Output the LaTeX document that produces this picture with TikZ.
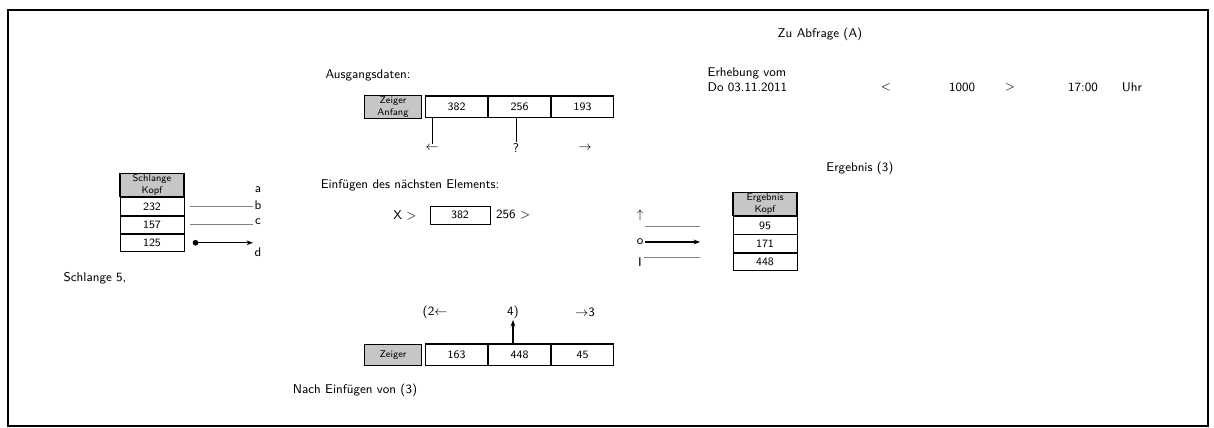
\documentclass[tikz,border=0pt]{standalone}
\usepackage{tikz}
\usetikzlibrary{arrows.meta,positioning}
\tikzset{
  cell/.style={draw, thin, minimum width=1.56cm, minimum height=0.52cm, inner sep=1pt,
    font=\sffamily\footnotesize, align=center},
  head/.style={cell, fill=gray!45, very thick, minimum width=1.42cm, font=\sffamily\scriptsize},
  vcell/.style={cell, minimum width=1.6cm, minimum height=0.44cm},
  vhead/.style={vcell, fill=gray!45, very thick, font=\sffamily\scriptsize},
  lbl/.style={font=\sffamily\small, inner sep=1pt, align=left},
  ptr/.style={thick, -{Stealth[length=1.6mm]}},
  aux/.style={thin, gray}
}
\begin{document}
\begin{tikzpicture}[x=0.025cm, y=-0.025cm]
  \useasboundingbox (0,0) rectangle (1214,427);
  \draw[thick] (8,10) rectangle (1208,426);

  % Ausgangsdaten
  \node[lbl] (t1) at (368,75) {Ausgangsdaten:};
  \node[head] (h1) at (393,107) {Zeiger\\Anfang};
  \node[cell, right=2pt of h1] (a1) {382};
  \node[cell, right=0pt of a1] (a2) {256};
  \node[cell, right=0pt of a2] (a3) {193};
  \draw[very thick] (a1.north west) -- (a3.north east);
  \node[lbl] (l1) at (432,148) {$\leftarrow$};
  \node[lbl] (l2) at (516,148) {?};
  \node[lbl] (l3) at (585,148) {$\rightarrow$};
  \draw (l1.north) -- (l1.north |- a1.south);
  \draw (l2.north) -- (l2.north |- a2.south);

  % Erhebung
  \node[lbl] (t2) at (820,34) {Zu Abfrage (A)};
  \node[lbl, anchor=west] (erh) at (706,80) {Erhebung vom\\Do 03.11.2011};
  \node[lbl] (lt) at (886,87) {$<$};
  \node[lbl] (n1) at (962,87) {1000};
  \node[lbl] (gt) at (1010,87) {$>$};
  \node[lbl] (zeit) at (1083,87) {17:00};
  \node[lbl] (uhr) at (1132,87) {Uhr};

  % Schlange
  \node[vhead] (s0) at (152,185) {Schlange\\Kopf};
  \node[vcell, below=0pt of s0] (s1) {232};
  \node[vcell, below=0pt of s1] (s2) {157};
  \node[vcell, below=0pt of s2] (s3) {125};
  \node[lbl] (la) at (258,190) {a};
  \node[lbl] (lb) at (258,205) {b};
  \node[lbl] (lc) at (258,222) {c};
  \node[lbl] (ld) at (258,252) {d};
  \draw[aux] ([xshift=4pt]s1.east) -- (s1.east -| lb.west);
  \draw[aux] ([xshift=4pt]s2.east) -- (s2.east -| lc.west);
  \draw[{Circle[length=1.4mm]}-{Stealth[length=1.6mm]}, thick]
    ([xshift=6pt]s3.east) -- (ld.west |- s3.east);
  \node[lbl] (t3) at (95,278) {Schlange 5,};

  % Einfuegen
  \node[lbl] (t4) at (410,185) {Einfügen des nächsten Elements:};
  \node[lbl] (x) at (405,215) {X $>$};
  \node[cell, minimum width=1.5cm, minimum height=0.45cm] (b1) at (460,215) {382};
  \node[lbl, right=3pt of b1] (b2) {256 $>$};

  % Ergebnis
  \node[lbl] (t5) at (860,168) {Ergebnis (3)};
  \node[vhead] (r0) at (765,204) {Ergebnis\\Kopf};
  \node[vcell, below=0pt of r0] (r1) {95};
  \node[vcell, below=0pt of r1] (r2) {171};
  \node[vcell, below=0pt of r2] (r3) {448};
  \node[lbl] (p1) at (640,215) {$\uparrow$};
  \node[lbl] (p2) at (640,242) {o};
  \node[lbl] (p3) at (640,262) {I};
  \coordinate (q1) at (700,226);
  \coordinate (q2) at (700,242);
  \coordinate (q3) at (700,257);
  \draw[aux] (q1 -| p1.east) -- (q1);
  \draw[ptr] (p2.east) -- (q2);
  \draw[aux] (q3 -| p3.east) -- (q3);

  % Nach Einfuegen
  \node[lbl] (m1) at (435,312) {(2$\leftarrow$};
  \node[lbl] (m2) at (513,312) {4)};
  \node[lbl] (m3) at (585,312) {$\rightarrow$3};
  \node[head] (h2) at (393,355) {Zeiger};
  \node[cell, right=2pt of h2] (c1) {163};
  \node[cell, right=0pt of c1] (c2) {448};
  \node[cell, right=0pt of c2] (c3) {45};
  \draw[very thick] (c1.north west) -- (c3.north east);
  \draw[ptr] (c2.north -| m2.south) -- (m2.south);
  \node[lbl] (t6) at (355,390) {Nach Einfügen von (3)};
\end{tikzpicture}
\end{document}
